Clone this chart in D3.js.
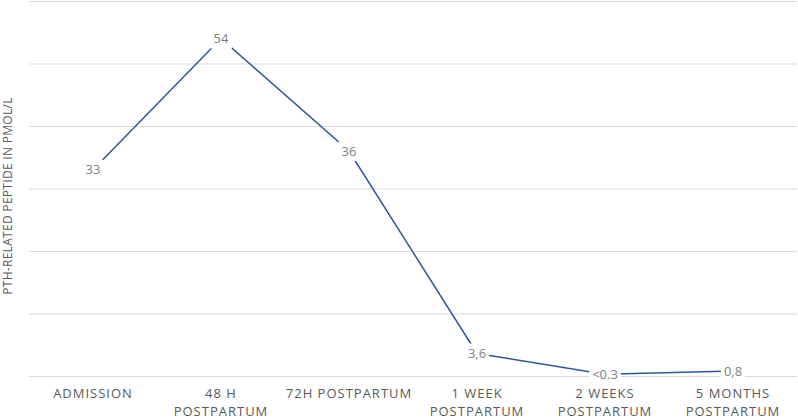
<!DOCTYPE html>
<html>
<head>
<meta charset="utf-8">
<script src="https://cdn.jsdelivr.net/npm/d3@7"></script>
<style>
  body { margin: 0; background: #fff; }
  svg { display: block; }
  .grid line { stroke: #d9d9d9; stroke-width: 1; }
  .grid path { display: none; }
  .x_axis path, .x_axis line { display: none; }
</style>
</head>
<body>
<script>
var categories = [
  ['ADMISSION'],
  ['48 H', 'POSTPARTUM'],
  ['72H POSTPARTUM'],
  ['1 WEEK', 'POSTPARTUM'],
  ['2 WEEKS', 'POSTPARTUM'],
  ['5 MONTHS', 'POSTPARTUM']
];
var values = [33, 54, 36, 3.6, 0.3, 0.8];
var valueLabels = ['33', '54', '36', '3,6', '<0.3', '0,8'];
var yTicks = [0, 10, 20, 30, 40, 50, 60];
var yTitle = 'PTH-RELATED PEPTIDE IN PMOL/L';

buildPlot();

function buildPlot() {
  var w = 798;
  var h = 418;
  var mLeft = 29, mRight = 797, mTop = 1, mBottom = 376;

  var svgFrame = d3.select('body')
    .append('svg')
    .attr('width', w)
    .attr('height', h);

  /* ===== scales and axes ===== */

  var xScale = d3.scaleBand()
    .domain(d3.range(categories.length))
    .range([mLeft, mRight]);

  var yScale = d3.scaleLinear()
    .domain([0, 60])
    .range([mBottom, mTop]);

  var yGrid = d3.axisLeft()
    .scale(yScale)
    .tickValues(yTicks)
    .tickSize(-(mRight - mLeft))
    .tickFormat('');

  svgFrame.append('g')
    .attr('class', 'grid')
    .attr('transform', 'translate(' + mLeft + ',0)')
    .call(yGrid);

  var xAxis = d3.axisBottom()
    .scale(xScale)
    .tickSize(0)
    .tickFormat('');

  var xg = svgFrame.append('g')
    .attr('class', 'x_axis')
    .attr('transform', 'translate(0,' + mBottom + ')')
    .call(xAxis);

  // multi-line category labels
  xg.selectAll('.tick').each(function(i) {
    var t = d3.select(this).append('text')
      .attr('fill', '#595959')
      .attr('text-anchor', 'middle')
      .style('font-family', '"Open Sans", sans-serif')
      .style('font-size', '13px')
      .style('letter-spacing', '1px');
    categories[i].forEach(function(line, k) {
      t.append('tspan')
        .attr('x', 0)
        .attr('y', 22 + k * 18)
        .text(line);
    });
  });

  /* ===== y title ===== */

  svgFrame.append('text')
    .attr('transform', 'translate(12,196) rotate(-90)')
    .attr('text-anchor', 'middle')
    .attr('fill', '#595959')
    .style('font-family', '"Open Sans", sans-serif')
    .style('font-size', '12px')
    .style('letter-spacing', '0.3px')
    .text(yTitle);

  /* ===== line ===== */

  var cx = function(i) { return xScale(i) + xScale.bandwidth() / 2; };

  var line = d3.line()
    .x(function(d, i) { return cx(i); })
    .y(function(d) { return yScale(d); });

  svgFrame.append('path')
    .datum(values)
    .attr('d', line)
    .attr('fill', 'none')
    .attr('stroke', '#2f5597')
    .attr('stroke-width', 1.5);

  /* ===== data labels (white box hides the line) ===== */

  var labels = svgFrame.selectAll('.dlabel')
    .data(values)
    .enter()
    .append('g')
    .attr('class', 'dlabel')
    .attr('transform', function(d, i) {
      return 'translate(' + cx(i) + ',' + yScale(d) + ')';
    });

  labels.append('rect').attr('fill', '#fff');

  labels.append('text')
    .attr('text-anchor', 'middle')
    .attr('dy', '0.35em')
    .attr('fill', '#7f7f7f')
    .style('font-family', '"Open Sans", sans-serif')
    .style('font-size', '13px')
    .text(function(d, i) { return valueLabels[i]; });

  labels.each(function() {
    var g = d3.select(this);
    var bb = g.select('text').node().getBBox();
    g.select('rect')
      .attr('x', bb.x - 3)
      .attr('y', -10)
      .attr('width', bb.width + 6)
      .attr('height', 20);
  });
}
</script>
</body>
</html>
